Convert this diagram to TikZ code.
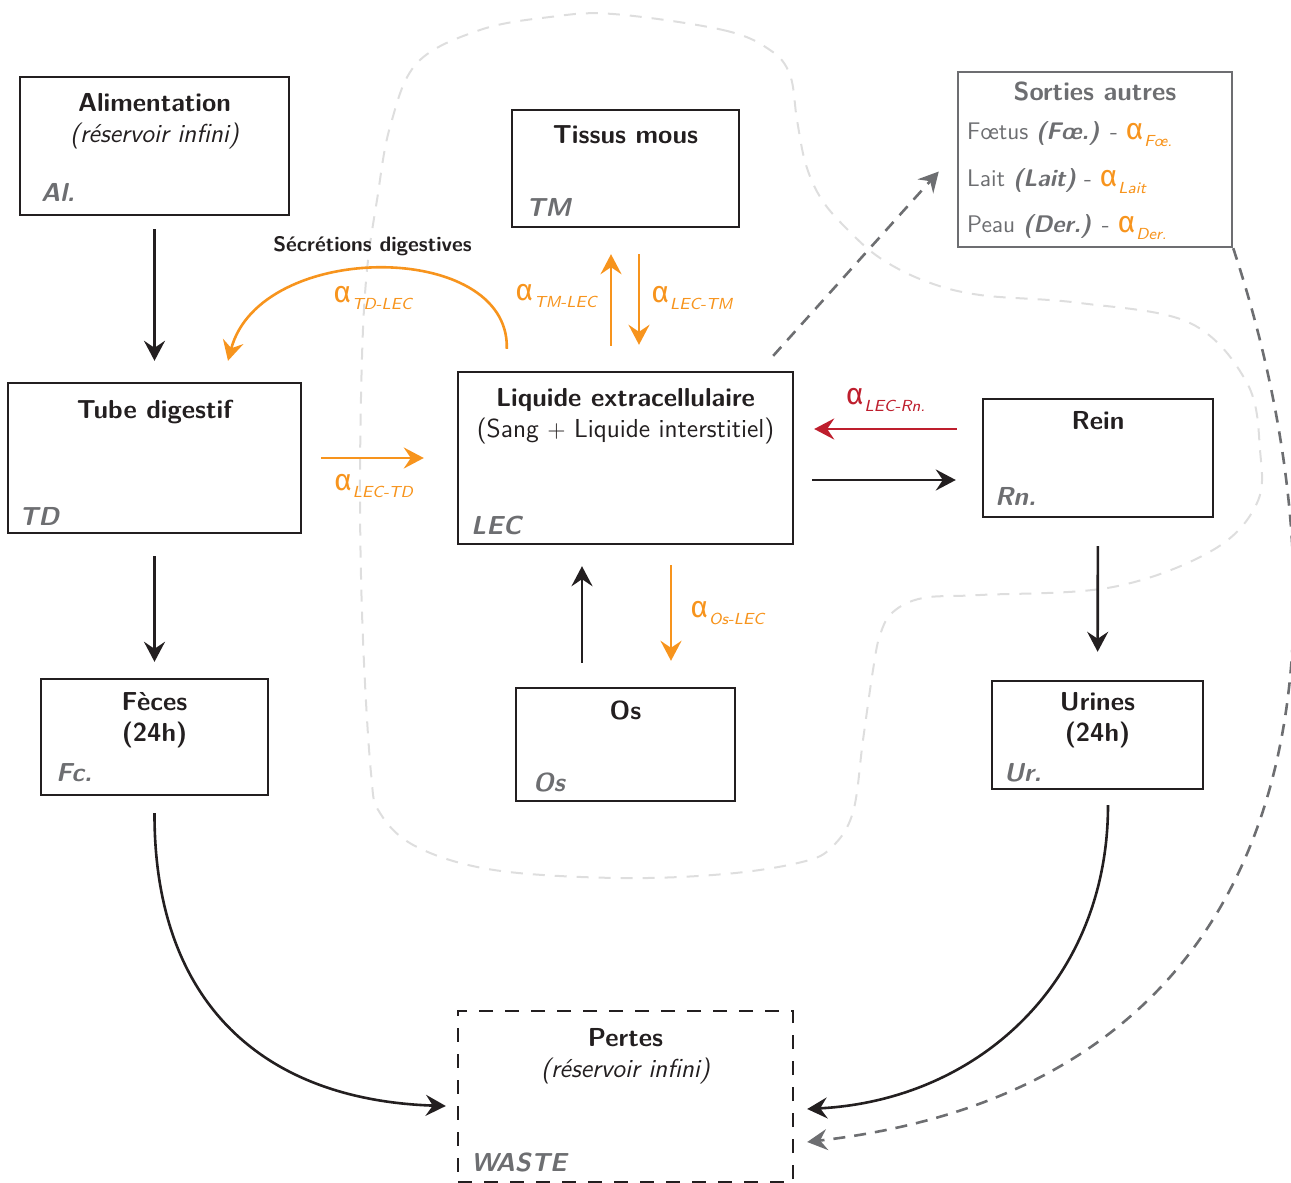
\documentclass[tikz,border=0pt]{standalone}
\usepackage{fontspec}
\newfontfamily\grec{Fira Sans}
\renewcommand{\familydefault}{\sfdefault}
\usetikzlibrary{arrows.meta}

\definecolor{encre}{RGB}{35,31,32}
\definecolor{gris}{RGB}{109,110,113}
\definecolor{orangeflux}{RGB}{247,148,29}
\definecolor{rouge}{RGB}{190,30,45}
\definecolor{brume}{RGB}{222,222,222}

% alpha with its index
\newcommand{\alf}[1]{{\fontsize{15}{15}\grec α}\kern0.5pt\raisebox{-3.5pt}{\footnotesize\sffamily\itshape #1}}
\newcommand{\gros}{\fontsize{13}{15}\selectfont}

\begin{document}
\begin{tikzpicture}[x=0.5pt,y=-0.5pt,
  boite/.style={draw=encre,line width=1.2pt,inner sep=0pt},
  titre/.style={anchor=north,inner sep=0pt,align=center,text=encre,font=\gros},
  code/.style={anchor=base west,inner sep=0pt,text=gris,font=\gros\bfseries\itshape},
  ligne/.style={anchor=base west,inner sep=0pt,text=gris,font=\large},
  alpha/.style={inner sep=0pt,text=orangeflux},
  fl/.style={line width=1.3pt,-{Stealth[length=10pt,width=10.5pt,inset=3.5pt]}},
  tiret/.style={dash pattern=on 6pt off 4.5pt}]
 \useasboundingbox (0,0) rectangle (1291,1183);

 % zone
 \draw[brume,line width=1pt,dash pattern=on 6pt off 5pt] plot[smooth cycle,tension=0.6] coordinates {
  (613,14) (723,30) (770,50) (790,75) (797,120) (806,165) (822,200) (848,230) (880,258)
  (925,281) (980,295) (1080,303) (1190,323) (1247,383) (1260,450) (1257,503) (1213,550)
  (1113,587) (980,595) (923,598) (893,612) (880,635) (873,670) (863,740) (853,812)
  (832,847) (802,862) (725,874) (617,878) (494,870) (417,847) (380,813) (371,773)
  (363,640) (360,500) (362,357) (367,270) (377,200) (390,127) (417,63) (480,30) (550,17)};

 % compartiments
 \node[boite,minimum width=134.5pt,minimum height=69pt] (al) at (154.5,146) {};
 \node[titre] (al-t) at ([yshift=-8.5pt]al.north) {{\bfseries Alimentation}\\[0.5pt]{\itshape (réservoir infini)}};
 \node[code] (al-c) at ([xshift=11pt,yshift=7.5pt]al.south west) {Al.};

 \node[boite,minimum width=113.5pt,minimum height=58.5pt] (tm) at (625.5,168.5) {};
 \node[titre,font=\gros\bfseries] (tm-t) at ([yshift=-8pt]tm.north) {Tissus mous};
 \node[code] (tm-c) at ([xshift=7.5pt,yshift=6pt]tm.south west) {TM};

 \node[boite,draw=gris,minimum width=137pt,minimum height=87.5pt] (so) at (1095,159.5) {};
 \node[titre,text=gris,font=\gros\bfseries] (so-t) at ([yshift=-5.5pt]so.north) {Sorties autres};
 \node[ligne] (so-a) at ([xshift=5pt,yshift=-34.5pt]so.north west) {Fœtus \textbf{\textit{(Fœ.)}} - \textcolor{orangeflux}{\alf{Fœ.}}};
 \node[ligne] (so-b) at ([xshift=5pt,yshift=-58pt]so.north west) {Lait \textbf{\textit{(Lait)}} - \textcolor{orangeflux}{\alf{Lait}}};
 \node[ligne] (so-c) at ([xshift=5pt,yshift=-81pt]so.north west) {Peau \textbf{\textit{(Der.)}} - \textcolor{orangeflux}{\alf{Der.}}};

 \node[boite,minimum width=146.5pt,minimum height=75pt] (td) at (154.5,458) {};
 \node[titre,font=\gros\bfseries] (td-t) at ([yshift=-9pt]td.north) {Tube digestif};
 \node[code] (td-c) at ([xshift=6pt,yshift=4.5pt]td.south west) {TD};

 \node[boite,minimum width=167.5pt,minimum height=86pt] (lec) at (625.5,458) {};
 \node[titre] (lec-t) at ([yshift=-8.5pt]lec.north) {{\bfseries Liquide extracellulaire}\\[0.5pt](Sang $+$ Liquide interstitiel)};
 \node[code] (lec-c) at ([xshift=7pt,yshift=5.5pt]lec.south west) {LEC};

 \node[boite,minimum width=115pt,minimum height=59pt] (rn) at (1098,458) {};
 \node[titre,font=\gros\bfseries] (rn-t) at ([yshift=-6.5pt]rn.north) {Rein};
 \node[code] (rn-c) at ([xshift=6.5pt,yshift=6.5pt]rn.south west) {Rn.};

 \node[boite,minimum width=113.5pt,minimum height=58pt] (fc) at (154.5,737) {};
 \node[titre,font=\gros\bfseries] (fc-t) at ([yshift=-7pt]fc.north) {Fèces\\[0.5pt](24h)};
 \node[code] (fc-c) at ([xshift=8pt,yshift=7.5pt]fc.south west) {Fc.};

 \node[boite,minimum width=109.5pt,minimum height=56.5pt] (os) at (625.5,744.5) {};
 \node[titre,font=\gros\bfseries] (os-t) at ([yshift=-7pt]os.north) {Os};
 \node[code] (os-c) at ([xshift=9pt,yshift=5.5pt]os.south west) {Os};

 \node[boite,minimum width=105.5pt,minimum height=54pt] (ur) at (1097.5,735) {};
 \node[titre,font=\gros\bfseries] (ur-t) at ([yshift=-6pt]ur.north) {Urines\\[0.5pt](24h)};
 \node[code] (ur-c) at ([xshift=6.5pt,yshift=4.5pt]ur.south west) {Ur.};

 \node[boite,dash pattern=on 7pt off 6pt,minimum width=167.5pt,minimum height=85.5pt] (waste) at (625.5,1096.5) {};
 \node[titre] (waste-t) at ([yshift=-9pt]waste.north) {{\bfseries Pertes}\\[0.5pt]{\itshape (réservoir infini)}};
 \node[code] (waste-c) at ([xshift=7pt,yshift=6pt]waste.south west) {WASTE};

 % flux
 \draw[fl,encre,shorten <=6.5pt,shorten >=10.5pt] (al) -- (td);
 \draw[fl,encre,shorten <=11pt,shorten >=8pt] (td) -- (fc);
 \draw[fl,orangeflux,shorten <=9.5pt,shorten >=16.5pt] (td) -- (lec)
   node[alpha,midway,below=7.5pt,xshift=-3pt] (a-lectd) {\alf{LEC-TD}};
 \draw[fl,orangeflux] ([xshift=25pt,yshift=11pt]lec.north west) .. controls (510,240) and (260,240) .. ([xshift=36.75pt,yshift=10.5pt]td.north)
   node[pos=0.5,above=6pt,xshift=-4pt,inner sep=0pt,text=encre,font=\fontsize{10.5}{12}\selectfont\bfseries] (sec) {Sécrétions digestives}
   node[alpha,pos=0.5,below=8pt,xshift=-4pt] (a-tdlec) {\alf{TD-LEC}};
 \draw[fl,orangeflux] ([xshift=-7.25pt,yshift=12.5pt]lec.north) -- ([xshift=-7.25pt,yshift=-13pt]tm.south)
   node[alpha,midway,left=6.5pt,yshift=2pt] (a-tmlec) {\alf{TM-LEC}};
 \draw[fl,orangeflux] ([xshift=6.75pt,yshift=-13pt]tm.south) -- ([xshift=6.75pt,yshift=13pt]lec.north)
   node[alpha,midway,right=5.5pt,yshift=1pt] (a-lectm) {\alf{LEC-TM}};
 \draw[fl,gris,tiret] ([xshift=-10.5pt,yshift=7.5pt]lec.north east) -- ([xshift=-9pt,yshift=-6pt]so.west);
 \draw[fl,rouge] ([xshift=-12.5pt,yshift=14.5pt]rn.west) -- ([xshift=10pt,yshift=14.5pt]lec.east)
   node[alpha,text=rouge,midway,above=8pt] (a-lecrn) {\alf{LEC-Rn.}};
 \draw[fl,encre] ([xshift=9pt,yshift=-11pt]lec.east) -- ([xshift=-13pt,yshift=-11pt]rn.west);
 \draw[fl,encre,shorten <=14pt,shorten >=14pt] (rn) -- (ur);
 \draw[fl,encre] ([xshift=-21.75pt,yshift=12pt]os.north) -- ([xshift=-21.75pt,yshift=-10.5pt]lec.south);
 \draw[fl,orangeflux] ([xshift=22.75pt,yshift=-10pt]lec.south) -- ([xshift=22.75pt,yshift=13pt]os.north)
   node[alpha,midway,right=9pt] (a-oslec) {\alf{Os-LEC}};
 \draw[fl,encre] ([yshift=-8.5pt]fc.south) .. controls (154,1000) and (260,1100) .. ([xshift=-5.5pt,yshift=-4.75pt]waste.west);
 \draw[fl,encre] ([xshift=5.25pt,yshift=-7.5pt]ur.south) .. controls (1108,980) and (980,1100) .. ([xshift=6.5pt,yshift=-6.25pt]waste.east);
 \draw[fl,gris,tiret] (so.south east) .. controls (1350,600) and (1340,1080) .. ([xshift=6.5pt,yshift=-22.75pt]waste.east);
\end{tikzpicture}
\end{document}
